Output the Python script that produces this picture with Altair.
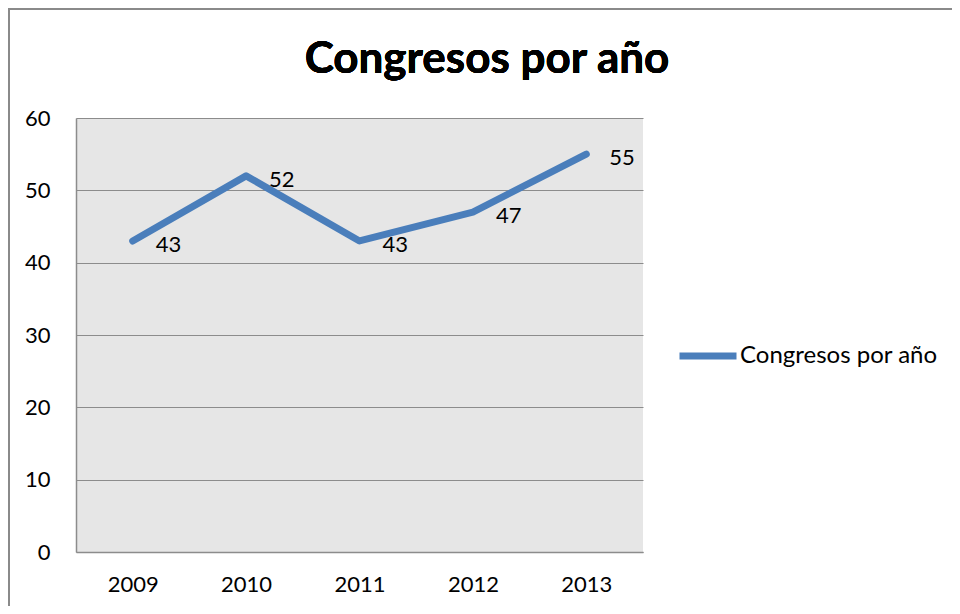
import altair as alt
import pandas as pd

years = ["2009", "2010", "2011", "2012", "2013"]
values = [43, 52, 43, 47, 55]
series_name = "Congresos por año"
title_text = "Congresos por año"
y_ticks = [0, 10, 20, 30, 40, 50, 60]

df = pd.DataFrame({"year": years, "value": values, "serie": [series_name] * len(years)})

FONT = "Lato"
BLUE = "#4a7ebb"
GRID = "#8c8c8c"

x_enc = alt.X("year:O", sort=years, scale=alt.Scale(type="point", padding=0.5),
              axis=alt.Axis(title=None, labelAngle=0, ticks=False, labelPadding=22,
                            labelFontSize=22, labelFont=FONT, labelColor="#000",
                            domainColor=GRID, domainWidth=1.5, grid=False))
y_enc = alt.Y("value:Q", scale=alt.Scale(domain=[0, 60], nice=False),
              axis=alt.Axis(title=None, values=y_ticks, ticks=False, labelPadding=26,
                            labelFontSize=22, labelFont=FONT, labelColor="#000",
                            domainColor=GRID, domainWidth=1.5, gridColor=GRID,
                            gridWidth=1.2))

border = alt.Chart(df).mark_rect(fill=None, stroke="#8a8a8a", strokeWidth=2).encode(
    x=alt.value(-67), x2=alt.value(1000), y=alt.value(-109), y2=alt.value(700))

line = alt.Chart(df).mark_line(strokeWidth=7, strokeCap="round", strokeJoin="round").encode(
    x=x_enc, y=y_enc,
    color=alt.Color("serie:N", scale=alt.Scale(range=[BLUE]),
                    legend=alt.Legend(title=None, orient="none", legendX=600, legendY=206,
                                      symbolType="stroke", symbolSize=3249,
                                      symbolStrokeWidth=7, labelFontSize=24,
                                      labelFont=FONT, labelColor="#000", labelOffset=0,
                                      labelLimit=400, padding=0)))

labels = alt.Chart(df).mark_text(align="left", baseline="middle", dx=23, dy=4,
                                 fontSize=22, font=FONT, color="#000").encode(
    x=alt.X("year:O", sort=years), y="value:Q", text="value:Q")

title = alt.Chart(df).mark_text(fontSize=44, font=FONT, fontWeight="bold",
                                color="#000", baseline="middle", align="center").encode(
    x=alt.value(411), y=alt.value(-58), text=alt.value(title_text))

chart = alt.layer(border, line, labels, title).properties(
    width=567, height=434,
    padding={"left": 68, "top": 110, "right": 309, "bottom": 54},
    autosize=alt.AutoSizeParams(type="none"),
    background="white",
).configure_view(fill="#e6e6e6", stroke=None)

chart.save("out.html", embed_options={"renderer": "svg", "actions": False})
